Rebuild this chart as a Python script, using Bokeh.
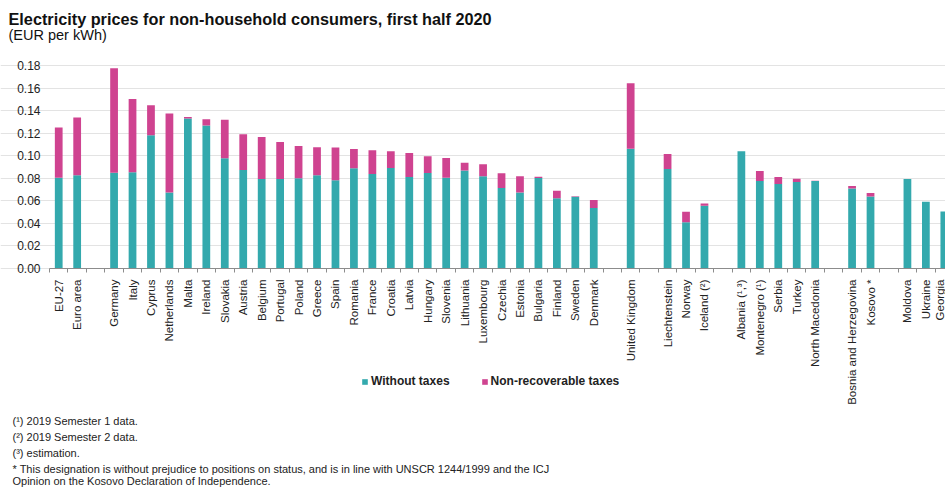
import math
from bokeh.plotting import figure
from bokeh.models import (ColumnDataSource, FixedTicker, Range1d, Legend,
                          LegendItem, NumeralTickFormatter, Label)
from bokeh.embed import file_html
from bokeh.resources import INLINE

# ---------------- data ----------------
groups = [
    ["EU-27", "Euro area"],
    ["Germany", "Italy", "Cyprus", "Netherlands", "Malta", "Ireland", "Slovakia",
     "Austria", "Belgium", "Portugal", "Poland", "Greece", "Spain", "Romania",
     "France", "Croatia", "Latvia", "Hungary", "Slovenia", "Lithuania",
     "Luxembourg", "Czechia", "Estonia", "Bulgaria", "Finland", "Sweden", "Denmark"],
    ["United Kingdom"],
    ["Liechtenstein", "Norway", "Iceland (\u00b2)"],
    ["Albania (\u00b9,\u00b3)", "Montenegro (\u00b9)", "Serbia", "Turkey", "North Macedonia"],
    ["Bosnia and Herzegovina", "Kosovo *"],
    ["Moldova", "Ukraine", "Georgia"],
]

without_taxes = [
    0.0805, 0.0826,
    0.0850, 0.0853, 0.1181, 0.0675, 0.1329, 0.1267, 0.0977,
    0.0873, 0.0793, 0.0793, 0.0800, 0.0826, 0.0782, 0.0888,
    0.0838, 0.0891, 0.0811, 0.0847, 0.0805, 0.0870,
    0.0817, 0.0713, 0.0675, 0.0802, 0.0622, 0.0636, 0.0536,
    0.1062,
    0.0882, 0.0411, 0.0557,
    0.1039, 0.0776, 0.0749, 0.0767, 0.0776,
    0.0710, 0.0639,
    0.0793, 0.0592, 0.0506,
]

totals = [
    0.1250, 0.1338,
    0.1776, 0.1504, 0.1448, 0.1374, 0.1344, 0.1323, 0.1320,
    0.1190, 0.1166, 0.1122, 0.1086, 0.1075, 0.1072, 0.1060,
    0.1048, 0.1039, 0.1024, 0.0995, 0.0980, 0.0938,
    0.0924, 0.0844, 0.0817, 0.0814, 0.0690, 0.0640, 0.0607,
    0.1643,
    0.1015, 0.0503, 0.0577,
    0.1039, 0.0864, 0.0811, 0.0796, 0.0777,
    0.0731, 0.0669,
    0.0793, 0.0592, 0.0506,
]

y_ticks = [0.0, 0.02, 0.04, 0.06, 0.08, 0.10, 0.12, 0.14, 0.16, 0.18]

title_text = "Electricity prices for non-household consumers, first half 2020"
subtitle_text = "(EUR per kWh)"
footnotes = [
    "(\u00b9) 2019 Semester 1 data.",
    "(\u00b2) 2019 Semester 2 data.",
    "(\u00b3) estimation.",
    "* This designation is without prejudice to positions on status, and is in line with UNSCR 1244/1999 and the ICJ",
    "Opinion on the Kosovo Declaration of Independence.",
]

# ---------------- layout helpers ----------------
categories, xpos = [], []
slot = 0
for gi, g in enumerate(groups):
    if gi > 0:
        slot += 1  # empty slot between groups
    for c in g:
        categories.append(c)
        xpos.append(slot)
        slot += 1
n_slots = slot

taxes = [round(t - w, 4) for t, w in zip(totals, without_taxes)]
src = ColumnDataSource(dict(x=xpos, cat=categories, w=without_taxes, t=taxes))

TEAL = "#33a9ad"
PINK = "#cf4390"
FONT = "Liberation Sans"

W, H = 945, 489
PLOT_LEFT, PLOT_TOP, PLOT_BOTTOM = 49, 65, 268   # pixel box of the bar area
SLOT_PX = 18.45
Y_MAX = y_ticks[-1]
y_per_px = Y_MAX / (PLOT_BOTTOM - PLOT_TOP)
x_start = -0.5 - PLOT_LEFT / SLOT_PX
x_plot_end = -0.5 + (W - PLOT_LEFT) / SLOT_PX
y_start = -(H - PLOT_BOTTOM) * y_per_px
y_end = Y_MAX + PLOT_TOP * y_per_px

p = figure(width=W, height=H, output_backend="svg", toolbar_location=None,
           x_range=Range1d(x_start, x_plot_end),
           y_range=Range1d(y_start, y_end),
           min_border=0)
p.outline_line_color = None
p.background_fill_color = "white"
p.border_fill_color = "white"

rs = p.vbar_stack(["w", "t"], x="x", width=0.42, color=[TEAL, PINK],
                  line_color=None, source=src)

# grid
p.xgrid.grid_line_color = None
p.ygrid.grid_line_color = "#e3e3e3"
p.ygrid.grid_line_width = 1
p.ygrid.bounds = (-0.5, x_plot_end)

# y axis drawn inside the frame at the left edge of the bar area
yax = p.yaxis[0]
yax.fixed_location = -0.5
yax.bounds = (0, Y_MAX)
yax.ticker = FixedTicker(ticks=y_ticks)
yax.formatter = NumeralTickFormatter(format="0.00")
yax.axis_line_color = None
yax.major_tick_line_color = None
yax.minor_tick_line_color = None
yax.major_tick_out = 0
yax.major_tick_in = 0
yax.major_label_text_font = FONT
yax.major_label_text_font_size = "12px"
yax.major_label_text_color = "#222222"
yax.major_label_standoff = 9

# x axis at zero
xax = p.xaxis[0]
xax.fixed_location = 0
xax.bounds = (-0.5, x_plot_end)
xax.ticker = FixedTicker(ticks=xpos,
                         minor_ticks=[i - 0.5 for i in range(n_slots + 1)])
xax.major_label_overrides = {x: c for x, c in zip(xpos, categories)}
xax.major_label_orientation = math.pi / 2
xax.major_tick_out = 0
xax.major_tick_in = 0
xax.minor_tick_out = 4
xax.minor_tick_in = 0
xax.minor_tick_line_color = "#8c8c8c"
xax.axis_line_color = "#8c8c8c"
xax.major_label_text_font = FONT
xax.major_label_text_font_size = "11.5px"
xax.major_label_text_color = "#222222"
xax.major_label_standoff = 7

# legend
legend = Legend(items=[LegendItem(label="Without taxes", renderers=[rs[0]]),
                       LegendItem(label="Non-recoverable taxes", renderers=[rs[1]])],
                orientation="horizontal", location=(361, H - 381 - 7),
                glyph_width=7, glyph_height=7, spacing=31, padding=0, margin=0,
                label_standoff=3, border_line_color=None,
                background_fill_alpha=0, label_height=14,
                label_text_font=FONT, label_text_font_size="12px",
                label_text_font_style="bold", label_text_color="#222222")
p.add_layout(legend, "center")

def screen_label(text, px, py, size, style="normal", color="#111111"):
    p.add_layout(Label(x=px, y=H - py, x_units="screen", y_units="screen",
                       text=text, text_font=FONT, text_font_size=size,
                       text_font_style=style, text_color=color,
                       text_baseline="middle", text_align="left"))

screen_label(title_text, 8, 18, "16.25px", "bold")
screen_label(subtitle_text, 8, 34, "14.5px")
for txt, cy in zip(footnotes, [420, 436, 452, 468, 480]):
    screen_label(txt, 12, cy, "11px", color="#222222")

open("out.html", "w").write(file_html(p, INLINE))
